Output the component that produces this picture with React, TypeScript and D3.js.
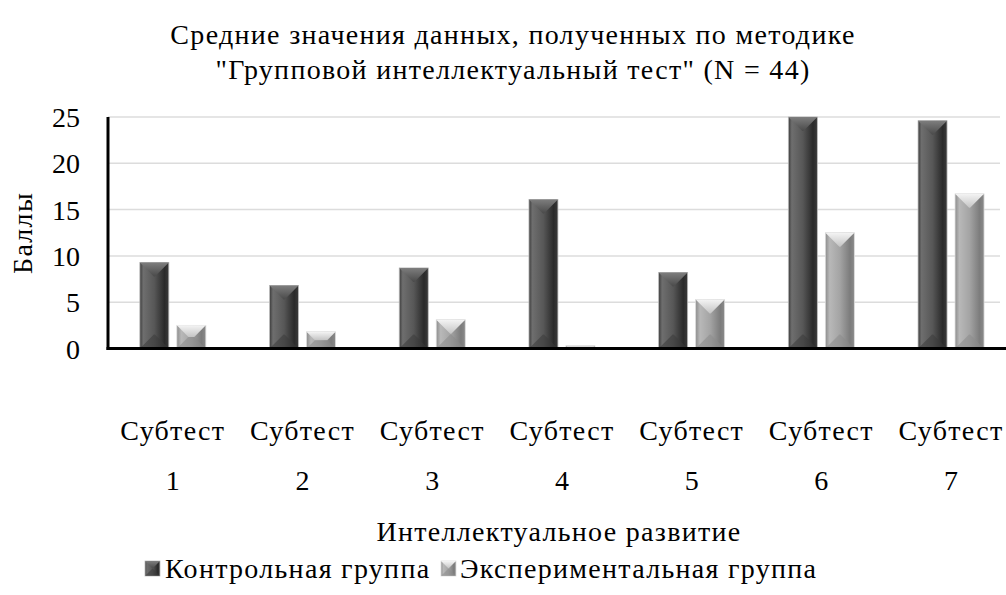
import React from "react";
import { scaleBand, scaleLinear } from "d3";

const categories = ["1", "2", "3", "4", "5", "6", "7"];
const controlValues = [9.3, 6.8, 8.7, 16.1, 8.2, 25.0, 24.6];
const experimentalValues = [2.5, 1.8, 3.1, 0.3, 5.3, 12.5, 16.7];
const seriesNames = ["Контрольная группа", "Экспериментальная группа"];
const yTicks = [0, 5, 10, 15, 20, 25];

const W = 1006;
const H = 595;
const FONT = "Liberation Serif";
// serif Cyrillic only comes through up to 28px, so widen with letter spacing rather than size
const FS = 28;
const LS = 1.3;

function Label({
  x,
  y,
  anchor = "start",
  rotate = 0,
  spacing = LS,
  children,
}: {
  x: number;
  y: number;
  anchor?: string;
  rotate?: number;
  spacing?: number;
  children: React.ReactNode;
}) {
  return (
    <text
      transform={`translate(${x},${y}) rotate(${rotate})`}
      textAnchor={anchor}
      fontFamily={FONT}
      fontSize={FS}
      letterSpacing={spacing}
      fill="#000"
    >
      {children}
    </text>
  );
}

function Bar({ x, y, w, h, light }: { x: number; y: number; w: number; h: number; light: boolean }) {
  if (h <= 0) return null;
  const b = Math.min(w / 2, h / 2, 14);
  const x1 = x + w;
  const y1 = y + h;
  const body = light ? "url(#gLight)" : "url(#gDark)";
  const topFill = light ? "url(#gLightTop)" : "url(#gDarkTop)";
  const botFill = light ? "#8a8a8a" : "#3a3a3a";
  return (
    <g>
      <rect x={x} y={y} width={w} height={h} fill={body} stroke={light ? "#dcdcdc" : "#bdbdbd"} strokeWidth={0.8} />
      <polygon points={`${x},${y} ${x1},${y} ${x1 - b},${y + b} ${x + b},${y + b}`} fill={topFill} />
      <polygon
        points={`${x},${y1} ${x1},${y1} ${x1 - b},${y1 - b} ${x + b},${y1 - b}`}
        fill={botFill}
        opacity={0.55}
      />
    </g>
  );
}

export default function App() {
  const left = 108;
  const top = 117;
  const bottom = 348.5;
  const x = scaleBand<string>().domain(categories).range([left, left + 7 * 129.7]).padding(0);
  const y = scaleLinear().domain([0, 25]).range([bottom, top]);
  const barW = 29;
  const gap = 8;
  const groupW = barW * 2 + gap;

  return (
    <svg width={W} height={H} style={{ position: "absolute", left: 0, top: 0, background: "#fff" }}>
      <defs>
        <linearGradient id="gDark" x1="0" x2="1" y1="0" y2="0">
          <stop offset="0" stopColor="#3c3c3c" />
          <stop offset="0.12" stopColor="#6e6e6e" />
          <stop offset="0.5" stopColor="#575757" />
          <stop offset="0.85" stopColor="#2a2a2a" />
          <stop offset="1" stopColor="#3a3a3a" />
        </linearGradient>
        <linearGradient id="gDarkTop" x1="0" x2="0" y1="0" y2="1">
          <stop offset="0" stopColor="#7e7e7e" />
          <stop offset="1" stopColor="#4a4a4a" />
        </linearGradient>
        <linearGradient id="gLight" x1="0" x2="1" y1="0" y2="0">
          <stop offset="0" stopColor="#8c8c8c" />
          <stop offset="0.15" stopColor="#b8b8b8" />
          <stop offset="0.5" stopColor="#a4a4a4" />
          <stop offset="0.85" stopColor="#7c7c7c" />
          <stop offset="1" stopColor="#8a8a8a" />
        </linearGradient>
        <linearGradient id="gLightTop" x1="0" x2="0" y1="0" y2="1">
          <stop offset="0" stopColor="#f4f4f4" />
          <stop offset="1" stopColor="#c4c4c4" />
        </linearGradient>
      </defs>

      {/* title */}
      <Label x={513} y={44} anchor="middle">
        Средние значения данных, полученных по методике
      </Label>
      <Label x={513} y={79} anchor="middle">
        "Групповой интеллектуальный тест" (N = 44)
      </Label>

      {/* gridlines */}
      {yTicks.slice(1).map((t) => (
        <line key={t} x1={left} x2={1000} y1={y(t)} y2={y(t)} stroke="#dcdcdc" strokeWidth={1.5} />
      ))}

      {/* y ticks */}
      {yTicks.map((t) => (
        <Label key={t} x={80} y={y(t) + 10} anchor="end" spacing={0}>
          {t}
        </Label>
      ))}
      <Label x={32} y={233} anchor="middle" rotate={-90}>
        Баллы
      </Label>

      {/* bars */}
      {categories.map((c, i) => {
        const gx = (x(c) as number) + (x.bandwidth() - groupW) / 2;
        return (
          <g key={c}>
            <Bar x={gx} y={y(controlValues[i])} w={barW} h={bottom - y(controlValues[i])} light={false} />
            <Bar
              x={gx + barW + gap}
              y={y(experimentalValues[i])}
              w={barW}
              h={bottom - y(experimentalValues[i])}
              light={true}
            />
          </g>
        );
      })}

      {/* axes */}
      <line x1={left} x2={left} y1={top} y2={bottom + 1.5} stroke="#000" strokeWidth={3} />
      <line x1={left - 1.5} x2={W} y1={bottom} y2={bottom} stroke="#000" strokeWidth={3} />

      {/* category labels */}
      {categories.map((c) => {
        const cx = (x(c) as number) + x.bandwidth() / 2;
        return (
          <g key={c}>
            <Label x={cx} y={440} anchor="middle">
              Субтест
            </Label>
            <Label x={cx} y={490} anchor="middle" spacing={0}>
              {c}
            </Label>
          </g>
        );
      })}

      <Label x={559} y={541} anchor="middle">
        Интеллектуальное развитие
      </Label>

      {/* legend */}
      <Bar x={145} y={561} w={15} h={15} light={false} />
      <Label x={165} y={578}>
        {seriesNames[0]}
      </Label>
      <Bar x={441} y={561} w={15} h={15} light={true} />
      <Label x={460} y={578}>
        {seriesNames[1]}
      </Label>
    </svg>
  );
}
